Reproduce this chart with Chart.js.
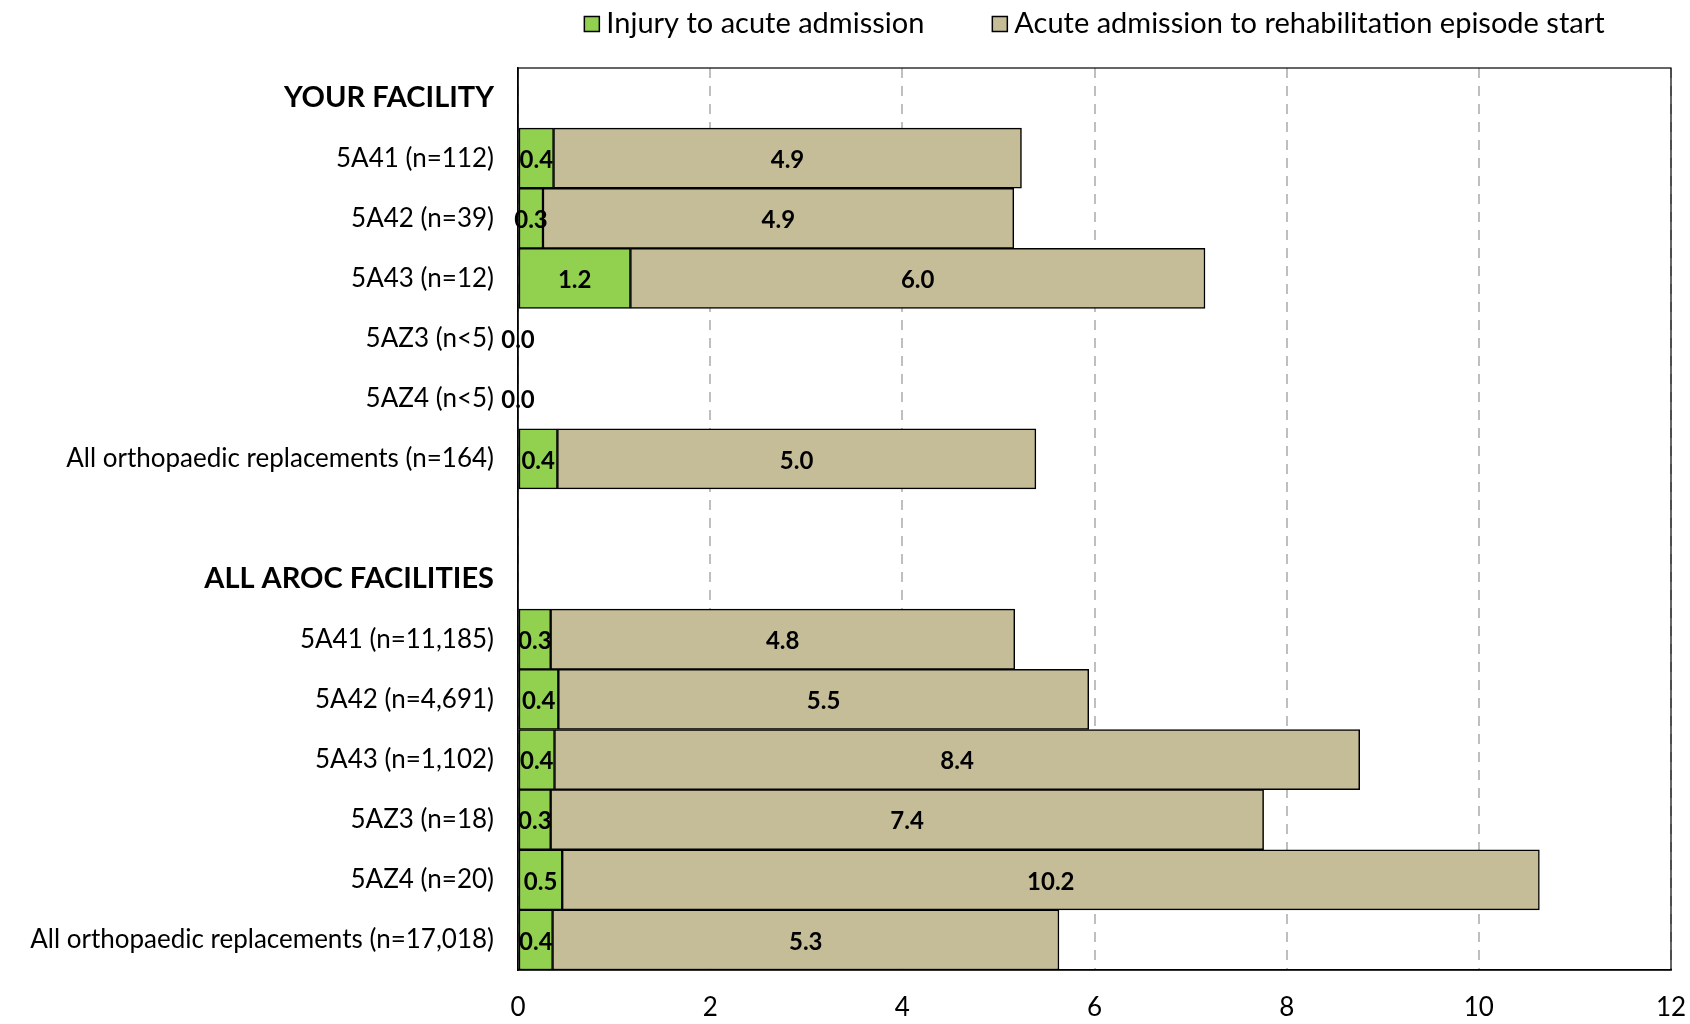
<!DOCTYPE html>
<html>
<head>
<meta charset="utf-8">
<script src="https://cdn.jsdelivr.net/npm/chart.js@4.4.1/dist/chart.umd.min.js"></script>
<style>
    html, body { margin: 0; padding: 0; background: #fff; }
    #wrap { width: 1690px; height: 1024px; }
</style>
</head>
<body>
<div id="wrap"><canvas id="chart" width="1690" height="1024"></canvas></div>
<script>
// rows of the chart, top to bottom (header rows and a spacer row included)
const categories = [
    'YOUR FACILITY',
    '5A41 (n=112)',
    '5A42 (n=39)',
    '5A43 (n=12)',
    '5AZ3 (n<5)',
    '5AZ4 (n<5)',
    'All orthopaedic replacements (n=164)',
    '',
    'ALL AROC FACILITIES',
    '5A41 (n=11,185)',
    '5A42 (n=4,691)',
    '5A43 (n=1,102)',
    '5AZ3 (n=18)',
    '5AZ4 (n=20)',
    'All orthopaedic replacements (n=17,018)'
];
const headerRows = ['YOUR FACILITY', 'ALL AROC FACILITIES'];

const seriesNames = ['Injury to acute admission', 'Acute admission to rehabilitation episode start'];

// days
const injuryToAcute = [null, 0.37, 0.26, 1.17, 0, 0, 0.41, null, null, 0.34, 0.42, 0.38, 0.34, 0.46, 0.36];
const acuteToRehab = [null, 4.87, 4.90, 5.98, 0, 0, 4.98, null, null, 4.83, 5.52, 8.38, 7.42, 10.17, 5.27];

const xMin = 0;
const xMax = 12;
const xStep = 2;

const FONT = 'Lato, "Noto Sans", sans-serif';

// value labels in the middle of each segment
const valueLabels = {
    id: 'valueLabels',
    afterDatasetsDraw(chart) {
        const ctx = chart.ctx;
        ctx.save();
        ctx.font = 'bold 24px ' + FONT;
        ctx.fillStyle = '#000';
        ctx.textAlign = 'center';
        ctx.textBaseline = 'middle';
        chart.data.datasets.forEach((ds, di) => {
            chart.getDatasetMeta(di).data.forEach((bar, i) => {
                const v = ds.data[i];
                if (v === null || v === undefined) return;
                if (di > 0 && v === 0) return;
                const p = bar.getCenterPoint();
                ctx.fillText(v.toFixed(1), p.x, p.y + 2);
            });
        });
        ctx.restore();
    }
};

// frame round the plot area
const frame = {
    id: 'frame',
    beforeDatasetsDraw(chart) {
        const a = chart.chartArea;
        const ctx = chart.ctx;
        ctx.save();
        ctx.strokeStyle = '#000';
        ctx.lineWidth = 1.2;
        ctx.strokeRect(a.left, a.top, a.right - a.left, a.bottom - a.top);
        ctx.restore();
    }
};

// legend above the plot, centred over the plot area
const topLegend = {
    id: 'topLegend',
    afterDraw(chart) {
        const ctx = chart.ctx;
        const a = chart.chartArea;
        const box = 15, gapText = 7, gapItem = 68;
        ctx.save();
        ctx.font = '29px ' + FONT;
        ctx.textBaseline = 'middle';
        const widths = chart.data.datasets.map(ds => box + gapText + ctx.measureText(ds.label).width);
        const total = widths.reduce((s, w) => s + w, 0) + gapItem * (widths.length - 1);
        let x = (a.left + a.right) / 2 - total / 2;
        const y = 24;
        chart.data.datasets.forEach((ds, i) => {
            ctx.fillStyle = ds.backgroundColor;
            ctx.fillRect(x, y - box / 2, box, box);
            ctx.strokeStyle = '#000';
            ctx.lineWidth = 1.5;
            ctx.strokeRect(x, y - box / 2, box, box);
            ctx.fillStyle = '#000';
            ctx.fillText(ds.label, x + box + gapText, y);
            x += widths[i] + gapItem;
        });
        ctx.restore();
    }
};

new Chart(document.getElementById('chart'), {
    type: 'bar',
    data: {
        labels: categories,
        datasets: [
            {
                label: seriesNames[0],
                data: injuryToAcute,
                backgroundColor: '#92D050',
                borderColor: '#000',
                borderWidth: 1.5,
                borderSkipped: false
            },
            {
                label: seriesNames[1],
                data: acuteToRehab,
                backgroundColor: '#C4BD97',
                borderColor: '#000',
                borderWidth: 1.5,
                borderSkipped: false
            }
        ]
    },
    options: {
        indexAxis: 'y',
        responsive: false,
        animation: false,
        categoryPercentage: 1,
        barPercentage: 1,
        layout: { padding: { top: 68, right: 19, left: 0, bottom: 0 } },
        plugins: {
            legend: { display: false },
            tooltip: { enabled: false }
        },
        scales: {
            x: {
                stacked: true,
                min: xMin,
                max: xMax,
                ticks: {
                    stepSize: xStep,
                    color: '#000',
                    padding: 22,
                    font: { family: FONT, size: 26 }
                },
                grid: {
                    color: '#BFBFBF',
                    lineWidth: 2,
                    drawTicks: false
                },
                border: { display: true, color: '#000', width: 1.5, dash: [10, 8] },
                afterFit(scale) {
                    scale.height = 54;
                    scale.paddingLeft = 0;
                    scale.paddingRight = 0;
                }
            },
            y: {
                stacked: true,
                ticks: {
                    color: '#000',
                    padding: 24,
                    autoSkip: false,
                    font: c => headerRows.includes(categories[c.index])
                        ? { family: FONT, size: 29, weight: 'bold' }
                        : { family: FONT, size: 26 }
                },
                grid: { display: false, drawTicks: false },
                border: { display: true, color: '#000', width: 1.5 },
                afterFit(scale) { scale.width = 518; }
            }
        }
    },
    plugins: [valueLabels, frame, topLegend]
});
</script>
</body>
</html>
